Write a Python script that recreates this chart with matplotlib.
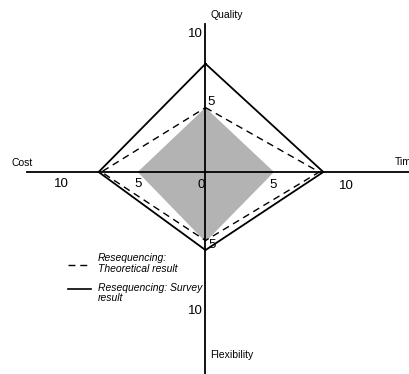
import matplotlib
matplotlib.use("Agg")
import matplotlib.pyplot as plt
import numpy as np

plt.rcParams['font.family'] = ['Liberation Sans', 'DejaVu Sans']

# Axis order: Quality (up), Time (right), Flexibility (down), Cost (left)
axes_names = ["Quality", "Time", "Flexibility", "Cost"]
survey = [7.9, 8.6, 5.7, 7.8]
theoretical = [4.7, 8.3, 5.0, 7.6]
baseline = [4.7, 5.0, 5.1, 4.95]

# tick labels on each arm (value positions)
tick_labels_h_left = ["10", "5"]
tick_pos_h_left = [-10.5, -4.95]
tick_labels_h_right = ["5", "10"]
tick_pos_h_right = [4.95, 10.3]
tick_labels_v_top = ["10", "5"]
tick_pos_v_top = [10.1, 5.13]
tick_labels_v_bottom = ["5", "10"]
tick_pos_v_bottom = [-5.33, -10.12]

legend_labels = ["Resequencing:\nTheoretical result", "Resequencing: Survey\nresult"]

S = 13.7  # px per unit
W, H = 410, 374
cx, cy = 205.5, 172.0

fig = plt.figure(figsize=(W / 100, H / 100), dpi=100)
ax = fig.add_axes([0, 0, 1, 1])
ax.set_xlim(-cx / S, (W - cx) / S)
ax.set_ylim(-(H - cy) / S, cy / S)
ax.axis('off')


def poly(vals):
    q, t, f, c = vals
    xs = [0, t, 0, -c, 0]
    ys = [q, 0, -f, 0, q]
    return xs, ys

bx, by = poly(baseline)
ax.fill(bx, by, color='#b3b3b3', lw=0, zorder=1)

# axes lines
ax.plot([-13.05, 16], [0, 0], color='black', lw=1.3, zorder=3)
ax.plot([0, 0], [10.8, -16], color='black', lw=1.3, zorder=3)

sx, sy = poly(survey)
ax.plot(sx, sy, color='black', lw=1.3, zorder=4, solid_joinstyle='miter')
tx, ty = poly(theoretical)
ax.plot(tx, ty, color='black', lw=1.0, dashes=(5, 3.5), zorder=4)

# tick labels
fs = 9.5
for lab, p in zip(tick_labels_h_left, tick_pos_h_left):
    ax.text(p, -0.88, lab, ha='center', va='center', fontsize=fs)
ax.text(-0.28, -0.95, "0", ha='center', va='center', fontsize=fs)
for lab, p in zip(tick_labels_h_right, tick_pos_h_right):
    ax.text(p, -0.95 if lab == "5" else -1.02, lab, ha='center', va='center', fontsize=fs)
for lab, p in zip(tick_labels_v_top, tick_pos_v_top):
    ax.text(-0.77 if lab == "10" else 0.38, p, lab, ha='center', va='center', fontsize=fs)
for lab, p in zip(tick_labels_v_bottom, tick_pos_v_bottom):
    ax.text(-0.77 if lab == "10" else 0.45, p, lab, ha='center', va='center', fontsize=fs)

# axis names
afs = 7.5
ax.text(1.55, 11.46, axes_names[0], ha='center', va='center', fontsize=afs)
ax.text(13.83, 0.73, axes_names[1], ha='left', va='center', fontsize=afs, clip_on=True)
ax.text(1.91, -13.36, axes_names[2], ha='center', va='center', fontsize=afs)
ax.text(-13.4, 0.64, axes_names[3], ha='center', va='center', fontsize=afs)

# legend
ax.plot([-10.04, -8.58], [-6.79, -6.79], color='black', lw=1.0, dashes=(5, 3.5))
ax.plot([-10.04, -8.38], [-8.56, -8.56], color='black', lw=1.2)
ax.text(-7.87, -6.69, legend_labels[0], ha='left', va='center', fontsize=7.5,
        style='italic', linespacing=1.2)
ax.text(-7.87, -8.80, legend_labels[1], ha='left', va='center', fontsize=7.5,
        style='italic', linespacing=1.0)

fig.savefig('out.png', dpi=100)
